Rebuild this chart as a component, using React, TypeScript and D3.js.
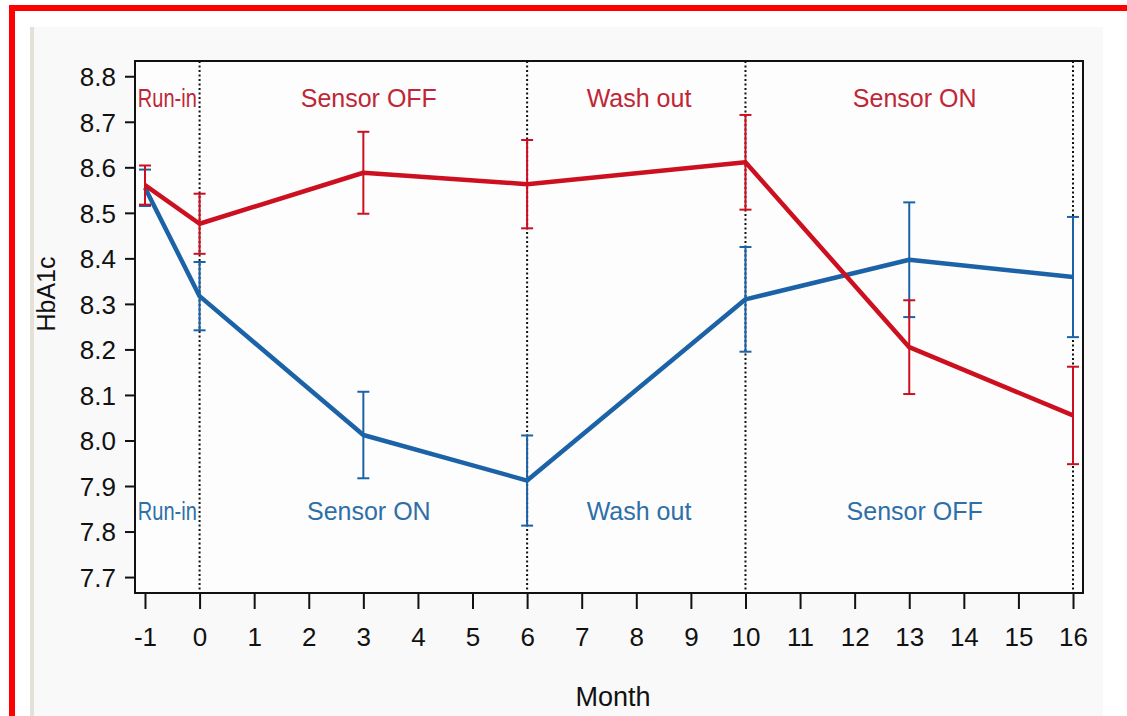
import React, { useEffect, useRef } from "react";
import { select, scaleLinear, axisBottom, axisLeft, line, range } from "d3";

// months where HbA1c was measured
const months = [-1, 0, 3, 6, 10, 13, 16];
// group starting with sensor OFF (red)
const redMean = [8.561, 8.476, 8.588, 8.563, 8.611, 8.205, 8.055];
const redErr = [0.043, 0.066, 0.09, 0.097, 0.104, 0.103, 0.107];
// group starting with sensor ON (blue)
const blueMean = [8.555, 8.317, 8.012, 7.912, 8.31, 8.397, 8.359];
const blueErr = [0.04, 0.075, 0.095, 0.099, 0.115, 0.126, 0.132];

const xTicks = range(-1, 17);
const yTicks = [7.7, 7.8, 7.9, 8.0, 8.1, 8.2, 8.3, 8.4, 8.5, 8.6, 8.7, 8.8];
const phaseLines = [0, 6, 10, 16];
const phaseMid = [-0.59, 3.1, 8.05, 13.1];
const redPhases = ["Run-in", "Sensor OFF", "Wash out", "Sensor ON"];
const bluePhases = ["Run-in", "Sensor ON", "Wash out", "Sensor OFF"];

const RED = "#cc1020";
const BLUE = "#1c62a6";
const FONT = "'Liberation Sans', Arial, sans-serif";

const App = () => {
  const svgRef = useRef<SVGSVGElement>(null);

  useEffect(() => {
    const svg = select(svgRef.current);
    svg.selectAll("*").remove();

    // page decoration
    svg.append("rect").attr("x", 34).attr("y", 27).attr("width", 1069).attr("height", 700).attr("fill", "#f9f9f9");
    svg.append("rect").attr("x", 30).attr("y", 27).attr("width", 4).attr("height", 700).attr("fill", "#e6e1d8");
    svg.append("rect").attr("x", 9).attr("y", 5).attr("width", 1118).attr("height", 6).attr("fill", "#ff0000");
    svg.append("rect").attr("x", 9).attr("y", 5).attr("width", 6).attr("height", 711).attr("fill", "#ff0000");

    const left = 135, right = 1083, top = 61, bottom = 593;
    const xScale = scaleLinear().domain([-1.183, 16.183]).range([left, right]);
    const yScale = scaleLinear().domain([7.665, 8.8335]).range([bottom, top]);

    svg.append("rect")
      .attr("x", left).attr("y", top)
      .attr("width", right - left).attr("height", bottom - top)
      .attr("fill", "#fdfdfd");

    // dotted phase separators
    svg.selectAll(".phase")
      .data(phaseLines)
      .join("line")
      .attr("class", "phase")
      .attr("x1", (d) => xScale(d)).attr("x2", (d) => xScale(d))
      .attr("y1", top).attr("y2", bottom)
      .attr("stroke", "#111")
      .attr("stroke-width", 2)
      .attr("stroke-dasharray", "2,2.5");

    // axes
    const xAxis = axisBottom(xScale).tickValues(xTicks).tickSize(16).tickPadding(19).tickFormat((d) => String(d));
    const gx = svg.append("g").attr("transform", `translate(0,${bottom})`).call(xAxis);
    const yAxis = axisLeft(yScale).tickValues(yTicks).tickSize(10).tickPadding(9).tickFormat((d) => Number(d).toFixed(1));
    const gy = svg.append("g").attr("transform", `translate(${left},0)`).call(yAxis);
    [gx, gy].forEach((g) => {
      g.select(".domain").remove();
      g.selectAll("line").attr("stroke", "#111").attr("stroke-width", 2);
      g.selectAll("text").attr("fill", "#111").attr("font-family", FONT).attr("font-size", 26);
    });
    gy.selectAll("text").attr("dy", "0.36em");

    // frame
    svg.append("rect")
      .attr("x", left).attr("y", top)
      .attr("width", right - left).attr("height", bottom - top)
      .attr("fill", "none").attr("stroke", "#111").attr("stroke-width", 2);

    const drawSeries = (means, errs, color) => {
      const pts = months.map((m, i) => ({ m, v: means[i], e: errs[i] }));
      const g = svg.append("g");
      g.selectAll(".err")
        .data(pts)
        .join("line")
        .attr("x1", (d) => xScale(d.m)).attr("x2", (d) => xScale(d.m))
        .attr("y1", (d) => yScale(d.v - d.e)).attr("y2", (d) => yScale(d.v + d.e))
        .attr("stroke", color).attr("stroke-width", 2);
      [-1, 1].forEach((s) => {
        g.selectAll(".cap" + s)
          .data(pts)
          .join("line")
          .attr("x1", (d) => xScale(d.m) - 6).attr("x2", (d) => xScale(d.m) + 6)
          .attr("y1", (d) => yScale(d.v + s * d.e)).attr("y2", (d) => yScale(d.v + s * d.e))
          .attr("stroke", color).attr("stroke-width", 2);
      });
      const path = line<any>().x((d) => xScale(d.m)).y((d) => yScale(d.v));
      g.append("path")
        .datum(pts)
        .attr("d", path)
        .attr("fill", "none")
        .attr("stroke", color)
        .attr("stroke-width", 4.5)
        .attr("stroke-linejoin", "round");
    };
    drawSeries(blueMean, blueErr, BLUE);
    drawSeries(redMean, redErr, RED);

    // phase labels
    const addLabels = (names, y, color, cls) => {
      const t = svg.selectAll("." + cls)
        .data(names)
        .join("text")
        .attr("class", cls)
        .attr("x", (d, i) => xScale(phaseMid[i]))
        .attr("y", y)
        .attr("text-anchor", "middle")
        .attr("font-family", FONT).attr("font-size", 25)
        .attr("fill", color)
        .text((d) => d);
      // run-in label is squeezed into the narrow first phase
      t.filter((d, i) => i === 0)
        .attr("textLength", 59)
        .attr("lengthAdjust", "spacingAndGlyphs");
    };
    addLabels(redPhases, 107, "#c02636", "redLab");
    addLabels(bluePhases, 520, "#2e6fa8", "blueLab");

    // axis titles
    svg.append("text")
      .attr("x", 613).attr("y", 706)
      .attr("text-anchor", "middle")
      .attr("font-family", FONT).attr("font-size", 27).attr("fill", "#111")
      .text("Month");
    svg.append("text")
      .attr("transform", "translate(55,294) rotate(-90)")
      .attr("text-anchor", "middle")
      .attr("font-family", FONT).attr("font-size", 25).attr("fill", "#111")
      .text("HbA1c");
  }, []);

  return (
    <svg
      ref={svgRef}
      width={1127}
      height={716}
      style={{ position: "absolute", left: 0, top: 0, background: "#fff" }}
    />
  );
};

export default App;
